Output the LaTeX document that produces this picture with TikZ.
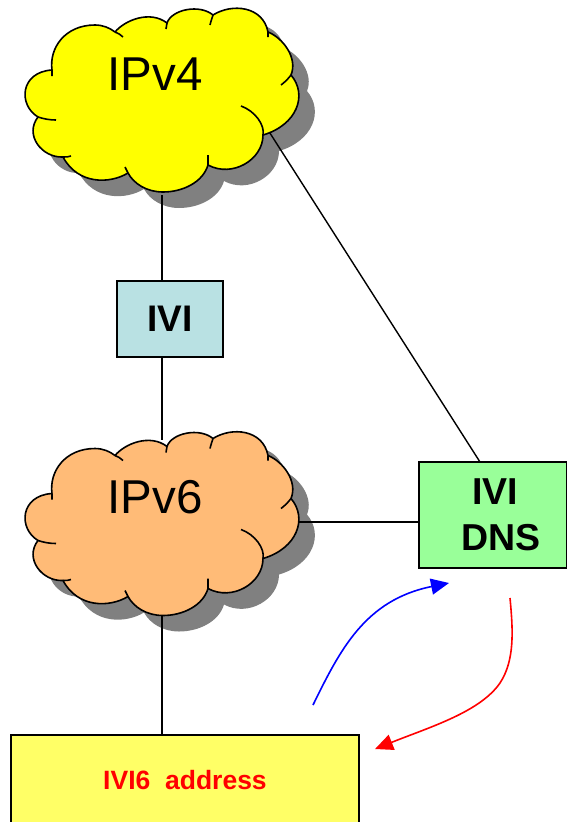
\documentclass[tikz,border=0pt]{standalone}
\usepackage{fontspec}
\setmainfont{Liberation Sans}
\usetikzlibrary{arrows.meta}
\definecolor{shadowgray}{HTML}{808080}
\definecolor{cloudyellow}{HTML}{FFFF00}
\definecolor{cloudorange}{HTML}{FFBB77}
\definecolor{iviblue}{HTML}{B9E1E3}
\definecolor{dnsgreen}{HTML}{99FF99}
\definecolor{addryellow}{HTML}{FFFF66}
\newcommand{\cloudoutline}{
  (52,70) .. controls (49,48) and (65,25) .. (95,25) .. controls (103,25) and (110,28) .. (115,32)
  .. controls (125,20) and (150,10) .. (167,23)
  .. controls (172,9) and (200,4) .. (213,15)
  .. controls (232,3) and (263,6) .. (268,32)
  .. controls (283,38) and (298,58) .. (291,75)
  .. controls (308,95) and (297,125) .. (263,135)
  .. controls (263,160) and (232,178) .. (208,165)
  .. controls (203,182) and (183,192) .. (163,192)
  .. controls (147,192) and (134,184) .. (128,173)
  .. controls (110,184) and (78,185) .. (63,157)
  .. controls (42,158) and (24,135) .. (38,117)
  .. controls (18,105) and (20,72) .. (52,70) -- cycle
}
\newcommand{\cloudtails}{
  (52,70) -- (52,76)
  (115,32) .. controls (118,33) and (121,35) .. (123,37)
  (167,23) -- (166,29)
  (213,15) .. controls (212,18) and (211,21) .. (210,25)
  (268,32) -- (268,37)
  (291,75) .. controls (288,79) and (285,82) .. (281,85)
  (241,106) .. controls (255,111) and (265,125) .. (263,135)
  (208,165) .. controls (208,162) and (208,159) .. (208,155)
  (128,173) .. controls (127,171) and (126,169) .. (125,167)
  (63,157) .. controls (66,157) and (69,157) .. (71,156)
  (38,117) .. controls (44,119) and (50,120) .. (56,120)
}
\tikzset{
  link/.style={draw=black,line width=1.4pt},
  boxnode/.style={draw=black,line width=1.8pt,anchor=north west,inner sep=0pt,outer sep=0pt,align=center,font=\bfseries},
  cloudlabel/.style={font=\fontsize{47.5}{50}\selectfont,inner sep=0pt},
  curvearrow/.style={line width=1.6pt,-{Triangle[length=18pt,width=16pt]}}
}
\begin{document}
\begin{tikzpicture}[x=1pt,y=-1pt]
\useasboundingbox (0,0) rectangle (567,822);
\fill[white] (0,0) rectangle (567,822);
% shadows
\fill[shadowgray,shift={(16,16)}] \cloudoutline;
\fill[shadowgray,shift={(16,439.5)}] \cloudoutline;
% boxes
\node[boxnode,fill=iviblue,minimum width=106pt,minimum height=76pt,font=\bfseries\fontsize{37}{40}\selectfont] (ivi) at (117,281) {IVI};
\node[boxnode,fill=dnsgreen,minimum width=148pt,minimum height=106pt,font=\bfseries\fontsize{37.5}{46}\selectfont] (dns) at (419,462) {\hspace*{4pt}IVI\\\hspace*{16pt}DNS};
\node[boxnode,fill=addryellow,minimum width=348pt,minimum height=90pt,text=red,font=\bfseries\fontsize{26.5}{30}\selectfont] (addr) at (11,735) {IVI6\ \ address};
% connector ends
\coordinate (v4bottom) at (162,195);
\coordinate (v4side) at (268,130);
\coordinate (v6top) at (162,440);
\coordinate (v6bottom) at (162,610);
\coordinate (v6side) at (295,522);
\coordinate (dnstop) at (480,462);
\coordinate (blueout) at (313,705);
\coordinate (bluein) at (449,583);
\coordinate (redout) at (510,598);
\coordinate (redmid) at (500,683);
\coordinate (redin) at (375,749);
% connectors
\draw[link] (v4bottom) -- (v4bottom |- ivi.north);
\draw[link] (v6top |- ivi.south) -- (v6top);
\draw[link] (v6bottom) -- (v6bottom |- addr.north);
\draw[link] (v4side) -- (dnstop);
\draw[link] (v6side) -- (v6side -| dns.west);
% clouds
\begin{scope}
\fill[cloudyellow] \cloudoutline;
\draw[line width=1.6pt,line join=round] \cloudoutline;
\draw[line width=1.6pt] \cloudtails;
\node[cloudlabel] (v4) at (155,74) {IPv4};
\end{scope}
\begin{scope}[shift={(0,423.5)}]
\fill[cloudorange] \cloudoutline;
\draw[line width=1.6pt,line join=round] \cloudoutline;
\draw[line width=1.6pt] \cloudtails;
\node[cloudlabel] (v6) at (155,74) {IPv6};
\end{scope}
% arrows
\draw[curvearrow,blue] (blueout) .. controls (340,650) and (365,600) .. (bluein);
\draw[curvearrow,red] (redout) .. controls (513,630) and (515,660) .. (redmid) .. controls (480,712) and (430,727) .. (redin);
\end{tikzpicture}
\end{document}
